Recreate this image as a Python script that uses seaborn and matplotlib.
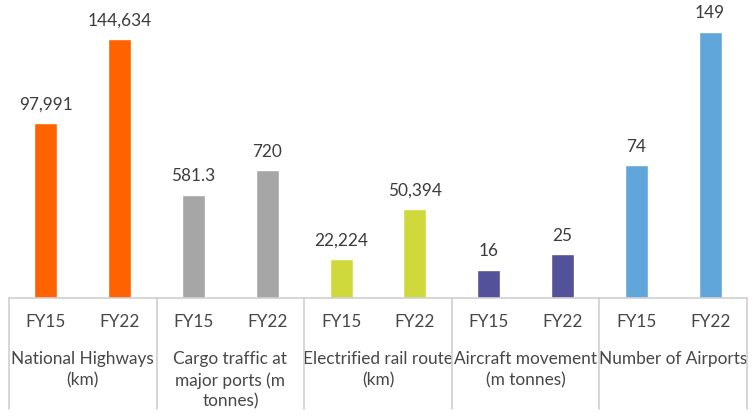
import matplotlib
matplotlib.use("Agg")
import matplotlib.pyplot as plt
from matplotlib.lines import Line2D
import seaborn as sns
import pandas as pd

# ---- data ----
groups = ["National Highways\n(km)", "Cargo traffic at\nmajor ports (m\ntonnes)",
          "Electrified rail route\n(km)", "Aircraft movement\n(m tonnes)", "Number of Airports"]
years = ["FY15", "FY22"]
fy15 = [97991, 581.3, 22224, 16, 74]
fy22 = [144634, 720, 50394, 25, 149]
labels15 = ["97,991", "581.3", "22,224", "16", "74"]
labels22 = ["144,634", "720", "50,394", "25", "149"]
colors = ["#FF6200", "#A6A6A6", "#D0D93C", "#525199", "#60A6DA"]
ymax = [155500, 1570, 158500, 160, 155.5]

sns.set_theme(style="white")
plt.rcParams["font.family"] = ["Lato", "DejaVu Sans"]

W, H = 756, 419
fig = plt.figure(figsize=(W / 100, H / 100), dpi=100)
text_col = "#474747"
line_col = "#CFCFCF"
fs = 12.4

left_px, right_px = 9, 747
base_px, top_px = 297.5, 20
gw = (right_px - left_px) / len(groups)

for i, g in enumerate(groups):
    x0 = left_px + i * gw
    ax = fig.add_axes([x0 / W, 1 - base_px / H, gw / W, (base_px - top_px) / H])
    df = pd.DataFrame({"year": years, "value": [fy15[i], fy22[i]]})
    sns.barplot(data=df, x="year", y="value", color=colors[i], width=0.31,
                saturation=1, ax=ax)
    ax.set_ylim(0, ymax[i])
    ax.set_xlim(-0.5, 1.5)
    ax.bar_label(ax.containers[0], labels=[labels15[i], labels22[i]],
                 padding=7.5, fontsize=fs, color="#3C3C3C")
    for s in ax.spines.values():
        s.set_visible(False)
    ax.set_yticks([])
    ax.set_xlabel("")
    ax.set_ylabel("")
    ax.tick_params(axis="x", length=0, pad=12, labelsize=fs, labelcolor=text_col)
    ax.patch.set_alpha(0)
    ax.text(0.5, -(351 - base_px) / (base_px - top_px), g, transform=ax.transAxes,
            ha="center", va="top", fontsize=fs, color=text_col, linespacing=1.38)

# table lines
fig.add_artist(Line2D([left_px / W, right_px / W], [1 - base_px / H, 1 - base_px / H],
                      color=line_col, lw=1.2))
for i in range(len(groups) + 1):
    x = (left_px + i * gw) / W
    fig.add_artist(Line2D([x, x], [1 - base_px / H, 1 - 409 / H], color=line_col, lw=1.2))

fig.savefig("out.png", dpi=100)
